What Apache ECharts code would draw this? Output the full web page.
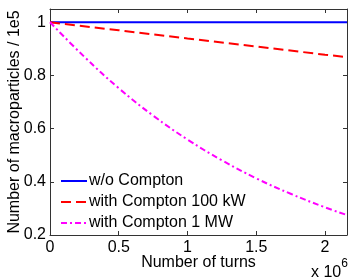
<!DOCTYPE html>
<html><head><meta charset="utf-8">
<script src="https://cdn.jsdelivr.net/npm/echarts@6/dist/echarts.min.js"></script>
<style>html,body{margin:0;padding:0;background:#fff}#c{width:354px;height:278px}</style>
</head><body><div id="c"></div>
<script>
// x in units of 1e6 turns, y in units of 1e5 macroparticles
const turnsFlat = [0, 2.16];
const noCompton = [1, 1];
const turns100kW = [0, 0.5, 1.0, 1.5, 2.0, 2.16];
const compton100kW = [1.0, 0.970, 0.939, 0.909, 0.878, 0.869];
const turns1MW = [0, 0.25, 0.5, 0.75, 1.0, 1.25, 1.5, 1.75, 2.0, 2.16];
const compton1MW = [1.0, 0.87, 0.752, 0.649, 0.559, 0.481, 0.413, 0.355, 0.304, 0.275];
const seriesNames = ['w/o Compton', 'with Compton 100 kW', 'with Compton 1 MW'];
const xTicks = [0, 0.5, 1, 1.5, 2];
const yTicks = [0.2, 0.4, 0.6, 0.8, 1];

const font = 'Liberation Sans, Arial, Helvetica, sans-serif';
const FS = 16;
const pair = (xs, ys) => xs.map((x, i) => [x, ys[i]]);
const axisCol = '#333';

const chart = echarts.init(document.getElementById('c'), null, {renderer: 'canvas'});
const fmtX = v => xTicks.includes(Math.round(v*1000)/1000) ? String(Math.round(v*10)/10) : '';
const fmtY = v => yTicks.includes(Math.round(v*1000)/1000) ? String(Math.round(v*10)/10) : '';
const baseX = {
  type: 'value', min: 0, max: 2.16, interval: 0.5,
  axisLine: {show: true, onZero: false, lineStyle: {color: axisCol, width: 1}},
  axisTick: {show: true, inside: true, length: 4, lineStyle: {color: axisCol}},
  splitLine: {show: false}
};
const baseY = {
  type: 'value', min: 0.2, max: 1.05, interval: 0.2,
  axisLine: {show: true, onZero: false, lineStyle: {color: axisCol, width: 1}},
  axisTick: {show: true, inside: true, length: 4, lineStyle: {color: axisCol}},
  splitLine: {show: false}
};
chart.setOption({
  animation: false,
  backgroundColor: '#fff',
  textStyle: {fontFamily: font},
  grid: {left: 50, right: 7, top: 9, bottom: 43, containLabel: false, outerBoundsMode: 'none'},
  xAxis: [
    Object.assign({}, baseX, {position: 'bottom',
      name: 'Number of turns', nameLocation: 'middle', nameGap: 20, nameMoveOverlap: false,
      nameTextStyle: {fontSize: FS, color: '#000', fontFamily: font},
      axisLabel: {show: true, formatter: fmtX, fontSize: FS, color: '#000', margin: 5, fontFamily: font, showMaxLabel: false}}),
    Object.assign({}, baseX, {position: 'top', axisLabel: {show: false}})
  ],
  yAxis: [
    Object.assign({}, baseY, {position: 'left',
      name: 'Number of macroparticles / 1e5', nameLocation: 'middle', nameGap: 27, nameMoveOverlap: false,
      nameTextStyle: {fontSize: FS, color: '#000', fontFamily: font},
      axisLabel: {show: true, formatter: fmtY, fontSize: FS, color: '#000', margin: 4, fontFamily: font, showMaxLabel: false}}),
    Object.assign({}, baseY, {position: 'right', axisLabel: {show: false}})
  ],
  legend: {
    orient: 'vertical', left: 60, top: 173, padding: 0, itemWidth: 26, itemHeight: 14, itemGap: 5,
    itemStyle: {opacity: 0},
    textStyle: {fontSize: FS, color: '#000', fontFamily: font, padding: [0,0,0,-3]},
    data: seriesNames
  },
  series: [
    {name: seriesNames[0], type: 'line', data: pair(turnsFlat, noCompton), showSymbol: false, symbol: 'none',
      lineStyle: {color: '#0000ff', width: 2}, itemStyle: {color: '#0000ff'}},
    {name: seriesNames[1], type: 'line', data: pair(turns100kW, compton100kW), showSymbol: false, symbol: 'none',
      lineStyle: {color: '#ff0000', width: 2, type: [10, 5]}, itemStyle: {color: '#ff0000'}},
    {name: seriesNames[2], type: 'line', data: pair(turns1MW, compton1MW), showSymbol: false, symbol: 'none', smooth: 0.4,
      lineStyle: {color: '#ff00ff', width: 2, type: [6, 3, 2, 3]}, itemStyle: {color: '#ff00ff'}}
  ],
  graphic: [{
    type: 'text', left: 311, top: 258,
    style: {text: '{a|x 10}{b|6}', rich: {
      a: {fontSize: FS, fontFamily: font, fill: '#000', padding: [7,0,0,0]},
      b: {fontSize: 12, fontFamily: font, fill: '#000', verticalAlign: 'top', padding: [0,0,10,0]}
    }}
  }]
});
</script></body></html>
